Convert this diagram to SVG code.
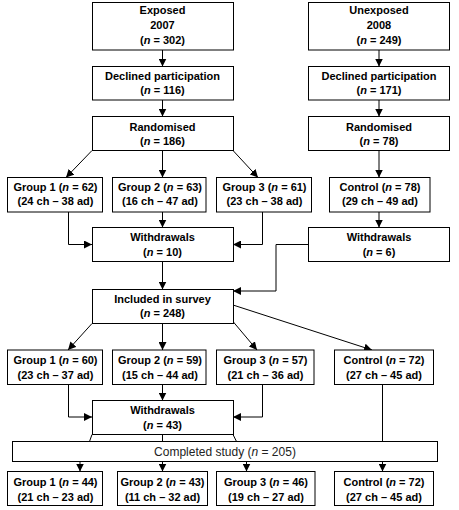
<svg xmlns="http://www.w3.org/2000/svg" width="459" height="510" viewBox="0 0 459 510">
<style>
rect.b{fill:#fff;stroke:#000;stroke-width:1}
text{font-family:"Liberation Sans",Arial,sans-serif;font-size:11px;font-weight:bold;text-anchor:middle;fill:#000}
text.r{font-weight:normal;font-size:12px;fill:#222}
.c{fill:none;stroke:#000;stroke-width:1}
.a{marker-end:url(#ah)}
</style>
<defs>
<marker id="ah" markerUnits="userSpaceOnUse" markerWidth="8" markerHeight="8" refX="8" refY="4" orient="auto">
<path d="M0,0 L8,4 L0,8 z" fill="#000"/>
</marker>
</defs>
<rect width="459" height="510" fill="#fff"/>
<g id="connectors">
<line class="c a" x1="162.5" y1="50" x2="162.5" y2="66.5"/>
<line class="c a" x1="162.5" y1="100" x2="162.5" y2="116.5"/>
<line class="c a" x1="379" y1="50" x2="379" y2="66.5"/>
<line class="c a" x1="379" y1="100" x2="379" y2="116.5"/>
<line class="c a" x1="92" y1="150.5" x2="66" y2="177.5"/>
<line class="c a" x1="162.5" y1="150.5" x2="162.5" y2="177.5"/>
<line class="c a" x1="233" y1="150.5" x2="258" y2="177.5"/>
<line class="c a" x1="379" y1="150.5" x2="379" y2="177.5"/>
<path class="c a" d="M68.5,212 V244.5 H92"/>
<path class="c a" d="M262.5,212 V244.5 H233"/>
<line class="c a" x1="162.5" y1="212" x2="162.5" y2="227.5"/>
<line class="c a" x1="379" y1="212" x2="379" y2="227.5"/>
<path class="c a" d="M308,244.5 H276 V291 H233"/>
<line class="c a" x1="162.5" y1="261.5" x2="162.5" y2="289.5"/>
<line class="c a" x1="92" y1="323.5" x2="68" y2="350"/>
<line class="c a" x1="162.5" y1="323.5" x2="162.5" y2="350"/>
<line class="c a" x1="233" y1="321.5" x2="257" y2="350"/>
<line class="c a" x1="233" y1="305" x2="372" y2="350"/>
<path class="c a" d="M68.5,384.5 V417 H92"/>
<path class="c a" d="M262.5,384.5 V417 H233"/>
<line class="c a" x1="162.5" y1="384.5" x2="162.5" y2="400.5"/>
<line class="c" x1="382.5" y1="384.5" x2="382.5" y2="441.5"/>
<line class="c" x1="92" y1="434.5" x2="89.5" y2="441.5"/>
<line class="c" x1="162.5" y1="434.5" x2="162.5" y2="441.5"/>
<line class="c" x1="233" y1="434.5" x2="236.5" y2="441.5"/>
<line class="c a" x1="80" y1="461.5" x2="80" y2="471.5"/>
<line class="c a" x1="162.5" y1="461.5" x2="162.5" y2="471.5"/>
<line class="c a" x1="246.5" y1="461.5" x2="246.5" y2="471.5"/>
<line class="c a" x1="382.5" y1="461.5" x2="382.5" y2="471.5"/>
</g>
<g id="exposed"><rect class="b" x="92.5" y="2.5" width="141" height="47.5"/>
<text x="162.5" y="14">Exposed</text><text x="162.5" y="29">2007</text><text x="162.5" y="44">(<tspan font-style="italic">n</tspan> = 302)</text></g>
<g id="unexposed"><rect class="b" x="308.5" y="2.5" width="141" height="47.5"/>
<text x="379" y="14">Unexposed</text><text x="379" y="29">2008</text><text x="379" y="44">(<tspan font-style="italic">n</tspan> = 249)</text></g>
<g id="declined-exp"><rect class="b" x="92.5" y="66.5" width="141" height="33.5"/>
<text x="162.5" y="80">Declined participation</text><text x="162.5" y="94">(<tspan font-style="italic">n</tspan> = 116)</text></g>
<g id="declined-unexp"><rect class="b" x="308.5" y="66.5" width="141" height="33.5"/>
<text x="379" y="80">Declined participation</text><text x="379" y="94">(<tspan font-style="italic">n</tspan> = 171)</text></g>
<g id="rand-exp"><rect class="b" x="92.5" y="116.5" width="141" height="34"/>
<text x="162.5" y="131">Randomised</text><text x="162.5" y="145">(<tspan font-style="italic">n</tspan> = 186)</text></g>
<g id="rand-unexp"><rect class="b" x="308.5" y="116.5" width="141" height="34"/>
<text x="379" y="131">Randomised</text><text x="379" y="145">(<tspan font-style="italic">n</tspan> = 78)</text></g>
<g id="g1a"><rect class="b" x="7.5" y="177.5" width="95" height="34.5"/>
<text x="55.5" y="191">Group 1 (<tspan font-style="italic">n</tspan> = 62)</text><text x="55.5" y="205">(24 ch – 38 ad)</text></g>
<g id="g2a"><rect class="b" x="112.5" y="177.5" width="93.5" height="34.5"/>
<text x="160" y="191">Group 2 (<tspan font-style="italic">n</tspan> = 63)</text><text x="160" y="205">(16 ch – 47 ad)</text></g>
<g id="g3a"><rect class="b" x="216.5" y="177.5" width="95" height="34.5"/>
<text x="264.5" y="191">Group 3 (<tspan font-style="italic">n</tspan> = 61)</text><text x="264.5" y="205">(23 ch – 38 ad)</text></g>
<g id="ctla"><rect class="b" x="329.5" y="177.5" width="100.5" height="34.5"/>
<text x="380" y="191">Control (<tspan font-style="italic">n</tspan> = 78)</text><text x="380" y="205">(29 ch – 49 ad)</text></g>
<g id="withdraw-exp"><rect class="b" x="92.5" y="227.5" width="141" height="34"/>
<text x="162.5" y="241">Withdrawals</text><text x="162.5" y="256">(<tspan font-style="italic">n</tspan> = 10)</text></g>
<g id="withdraw-unexp"><rect class="b" x="308.5" y="227.5" width="141" height="34"/>
<text x="379" y="241">Withdrawals</text><text x="379" y="256">(<tspan font-style="italic">n</tspan> = 6)</text></g>
<g id="included"><rect class="b" x="92.5" y="289.5" width="141" height="34"/>
<text x="162.5" y="302.5">Included in survey</text><text x="162.5" y="317">(<tspan font-style="italic">n</tspan> = 248)</text></g>
<g id="g1b"><rect class="b" x="7.5" y="350" width="95" height="34.5"/>
<text x="55.5" y="364">Group 1 (<tspan font-style="italic">n</tspan> = 60)</text><text x="55.5" y="378.5">(23 ch – 37 ad)</text></g>
<g id="g2b"><rect class="b" x="112.5" y="350" width="93.5" height="34.5"/>
<text x="160" y="364">Group 2 (<tspan font-style="italic">n</tspan> = 59)</text><text x="160" y="378.5">(15 ch – 44 ad)</text></g>
<g id="g3b"><rect class="b" x="216.5" y="350" width="97.5" height="34.5"/>
<text x="265.5" y="364">Group 3 (<tspan font-style="italic">n</tspan> = 57)</text><text x="265.5" y="378.5">(21 ch – 36 ad)</text></g>
<g id="ctlb"><rect class="b" x="334.5" y="350" width="99" height="34.5"/>
<text x="384" y="364">Control (<tspan font-style="italic">n</tspan> = 72)</text><text x="384" y="378.5">(27 ch – 45 ad)</text></g>
<g id="withdraw2"><rect class="b" x="92.5" y="400.5" width="141" height="34"/>
<text x="162.5" y="414">Withdrawals</text><text x="162.5" y="428.5">(<tspan font-style="italic">n</tspan> = 43)</text></g>
<g id="completed"><rect class="b" x="12.5" y="441.5" width="425" height="20"/>
<text class="r" x="225" y="456">Completed study (<tspan font-style="italic">n</tspan> = 205)</text></g>
<g id="g1c"><rect class="b" x="7.5" y="471.5" width="95" height="34"/>
<text x="55.5" y="486">Group 1 (<tspan font-style="italic">n</tspan> = 44)</text><text x="55.5" y="500.5">(21 ch – 23 ad)</text></g>
<g id="g2c"><rect class="b" x="117.5" y="471.5" width="90" height="34"/>
<text x="162.5" y="486">Group 2 (<tspan font-style="italic">n</tspan> = 43)</text><text x="162.5" y="500.5">(11 ch – 32 ad)</text></g>
<g id="g3c"><rect class="b" x="216.5" y="471.5" width="98.5" height="34"/>
<text x="266" y="486">Group 3 (<tspan font-style="italic">n</tspan> = 46)</text><text x="266" y="500.5">(19 ch – 27 ad)</text></g>
<g id="ctlc"><rect class="b" x="334.5" y="471.5" width="99" height="34"/>
<text x="384" y="486">Control (<tspan font-style="italic">n</tspan> = 72)</text><text x="384" y="500.5">(27 ch – 45 ad)</text></g>
</svg>
